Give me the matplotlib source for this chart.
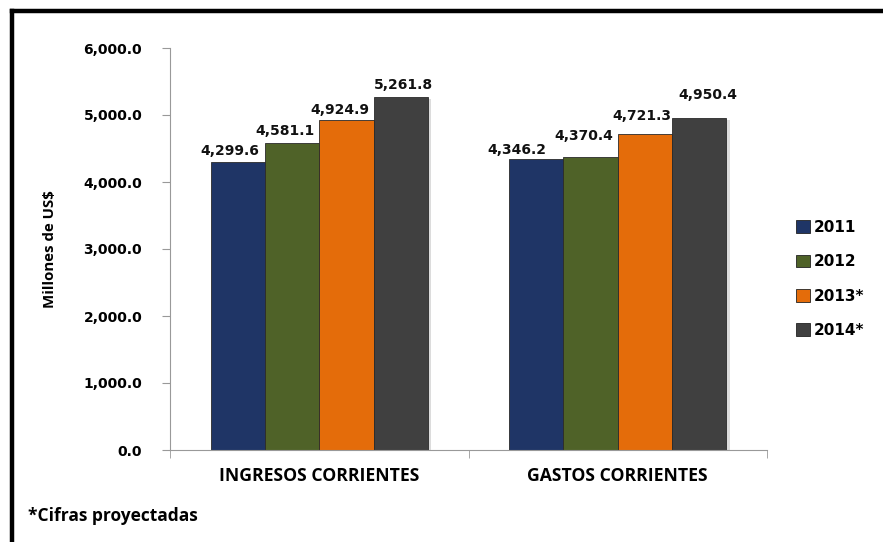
import matplotlib
matplotlib.use("Agg")
import matplotlib.pyplot as plt
import numpy as np
from matplotlib.lines import Line2D
from matplotlib.patches import Patch

categories = ["INGRESOS CORRIENTES", "GASTOS CORRIENTES"]
series_names = ["2011", "2012", "2013*", "2014*"]
values = {
    "2011": [4299.6, 4346.2],
    "2012": [4581.1, 4370.4],
    "2013*": [4924.9, 4721.3],
    "2014*": [5261.8, 4950.4],
}
colors = ["#1F3566", "#4F6228", "#E46C0A", "#404040"]
yticks = [0, 1000, 2000, 3000, 4000, 5000, 6000]

fig = plt.figure(figsize=(8.83, 5.42), dpi=100)
ax = fig.add_axes([170/883, 1-450/542, (767-170)/883, (450-48)/542])

x = np.arange(len(categories))
bw = 0.182
offsets = (np.arange(4) - 1.5) * bw
# label offsets (points) per series/category to mimic the reference placement
lab_dx = [[-6, -14], [-5, -5], [-5, -2], [2, 6.5]]
lab_dy = [[2.5, 1.0], [4, 10.5], [2.5, 8], [4, 12]]
for i, name in enumerate(series_names):
    vals = values[name]
    ax.bar(x + offsets[i] + 0.012, vals, bw, bottom=-25, color="#bbbbbb", alpha=0.5, zorder=1, linewidth=0)
    bars = ax.bar(x + offsets[i], vals, bw, color=colors[i], edgecolor="#2a2a2a", linewidth=0.6, zorder=2)
    for j, b in enumerate(bars):
        ax.annotate(f"{vals[j]:,.1f}", (b.get_x() + b.get_width()/2, vals[j]),
                    xytext=(lab_dx[i][j], lab_dy[i][j]), textcoords="offset points",
                    ha="center", va="bottom", fontsize=10, fontweight="bold",
                    family="DejaVu Sans", color="#111111", zorder=5)

ax.set_xlim(-0.5, 1.5)
ax.set_ylim(0, 6000)
ax.set_yticks(yticks)
ax.set_yticklabels([f"{v:,.1f}" for v in yticks], fontsize=10, fontweight="bold", family="DejaVu Sans")
ax.set_xticks(x)
ax.set_xticklabels(categories, fontsize=12.7, fontweight="bold", family="Open Sans")
ax.set_xticks([-0.5, 0.5, 1.5], minor=True)
ax.tick_params(axis="x", which="major", length=0, pad=12)
ax.tick_params(axis="x", which="minor", length=6, color="#999999")
ax.tick_params(axis="y", length=6, color="#999999", pad=14)
for s in ["top", "right"]:
    ax.spines[s].set_visible(False)
for s in ["left", "bottom"]:
    ax.spines[s].set_color("#999999")
ax.set_ylabel("Millones de US$", fontsize=10.8, fontweight="bold", family="Open Sans")
ax.yaxis.set_label_coords(-0.19, 0.5)

handles = [Patch(facecolor=c, edgecolor="#222222", linewidth=0.6) for c in colors]
leg = fig.legend(handles, series_names, loc="upper left", bbox_to_anchor=(782/883, 1-206/542),
                 frameon=False, prop={"family": "DejaVu Sans", "weight": "bold", "size": 11},
                 handlelength=0.9, handleheight=0.9, handletextpad=0.3, labelspacing=1.27)

fig.text(28/883, 1-516/542, "*Cifras proyectadas", fontsize=12.5, fontweight="bold", family="Open Sans",
         va="center", ha="left")

# outer frame (top and left edges visible)
fig.add_artist(Line2D([11.5/883, 1.0], [1-10.5/542, 1-10.5/542], transform=fig.transFigure, color="black", linewidth=3.2))
fig.add_artist(Line2D([11.5/883, 11.5/883], [0, 1-10.5/542], transform=fig.transFigure, color="black", linewidth=3.2))

fig.savefig("out.png", dpi=100)
